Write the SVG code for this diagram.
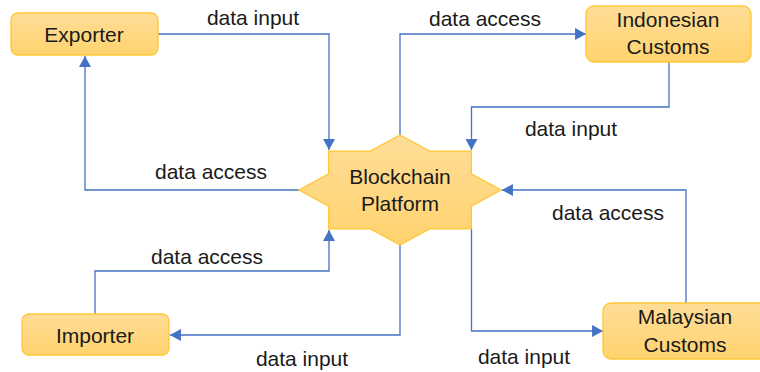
<svg xmlns="http://www.w3.org/2000/svg" width="760" height="372" viewBox="0 0 760 372">
  <defs>
    <linearGradient id="fillGrad" x1="0" y1="0" x2="0" y2="1">
      <stop offset="0" stop-color="#FFDD98"/>
      <stop offset="1" stop-color="#FFD36E"/>
    </linearGradient>
    <marker id="arrow" markerUnits="userSpaceOnUse" markerWidth="12" markerHeight="12" viewBox="0 0 10 11" refX="10" refY="5.5" orient="auto">
      <path d="M0,0 L10,5.5 L0,11 Z" fill="#4472C4"/>
    </marker>
  </defs>
  <style>
    .node { fill: url(#fillGrad); stroke: #FFC735; stroke-width: 1.3; }
    .lbl { font-family: "Liberation Sans", Arial, sans-serif; font-size: 21px; fill: #1a1a1a; text-anchor: middle; }
    .conn { fill: none; stroke: #4472C4; stroke-width: 1.3; marker-end: url(#arrow); }
  </style>
  <rect width="760" height="372" fill="#ffffff"/>

  <g id="connectors">
    <path class="conn" d="M158,34 H329 V150"/>
    <path class="conn" d="M299,190 H85 V56"/>
    <path class="conn" d="M400,135 V34 H586"/>
    <path class="conn" d="M669,62 V107 H471.5 V150"/>
    <path class="conn" d="M686,303 V190 H502"/>
    <path class="conn" d="M471.5,229 V331 H603"/>
    <path class="conn" d="M95,314 V271 H329 V230"/>
    <path class="conn" d="M400,245 V335 H170"/>
  </g>

  <g id="labels">
    <text class="lbl" x="253" y="25">data input</text>
    <text class="lbl" x="211" y="179">data access</text>
    <text class="lbl" x="485" y="26">data access</text>
    <text class="lbl" x="571" y="136">data input</text>
    <text class="lbl" x="608" y="220">data access</text>
    <text class="lbl" x="524" y="364">data input</text>
    <text class="lbl" x="207" y="264">data access</text>
    <text class="lbl" x="302" y="366">data input</text>
  </g>

  <g id="exporter">
    <rect class="node" x="11" y="13" width="147" height="42" rx="7"/>
    <text class="lbl" x="84" y="42">Exporter</text>
  </g>

  <g id="indonesian-customs">
    <rect class="node" x="586" y="6" width="165" height="56" rx="8"/>
    <text class="lbl" x="668" y="27">Indonesian</text>
    <text class="lbl" x="668" y="54">Customs</text>
  </g>

  <g id="importer">
    <rect class="node" x="22" y="314" width="147" height="41" rx="7"/>
    <text class="lbl" x="95" y="343">Importer</text>
  </g>

  <g id="malaysian-customs">
    <rect class="node" x="603" y="303" width="165" height="56" rx="8"/>
    <text class="lbl" x="685" y="324">Malaysian</text>
    <text class="lbl" x="685" y="352">Customs</text>
  </g>

  <g id="blockchain-platform">
    <polygon class="node" points="400,135 429.6,151.1 471.4,151.1 471.4,173.9 501,190 471.4,206.1 471.4,228.9 429.6,228.9 400,245 370.4,228.9 328.6,228.9 328.6,206.1 299,190 328.6,173.9 328.6,151.1 370.4,151.1"/>
    <text class="lbl" x="400" y="184">Blockchain</text>
    <text class="lbl" x="400" y="211">Platform</text>
  </g>
</svg>
